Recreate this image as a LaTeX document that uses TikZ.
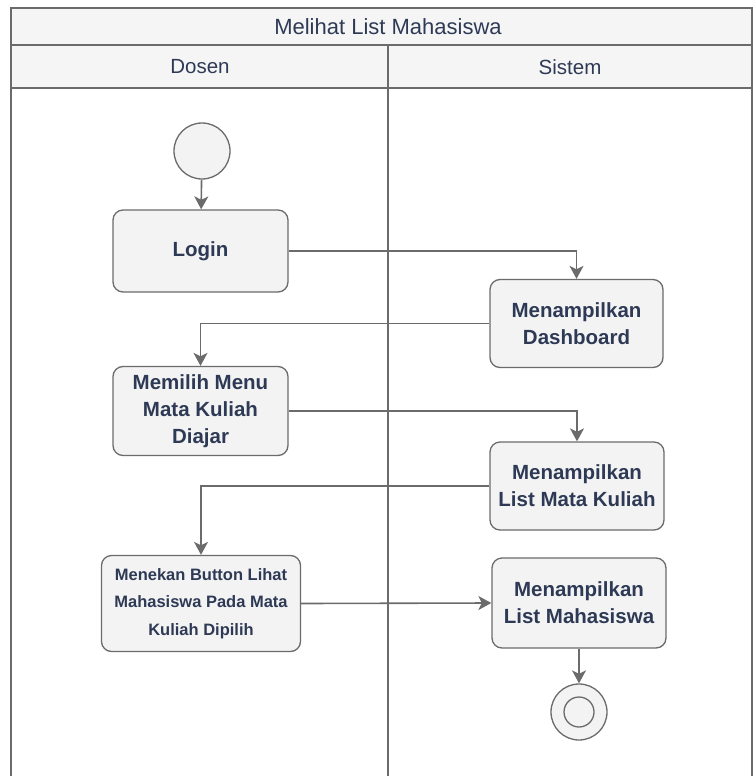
\documentclass[tikz,border=0pt]{standalone}
\usepackage{fontspec}
\setmainfont{Liberation Sans}
\usetikzlibrary{arrows.meta}
\definecolor{ink}{HTML}{2E3A55}
\definecolor{edge}{HTML}{6B6B6B}
\definecolor{boxfill}{HTML}{F3F3F3}
\definecolor{headfill}{HTML}{F5F5F5}
\tikzset{
  lane/.style={draw=edge, line width=1.3pt},
  action/.style={draw=edge, fill=boxfill, line width=1.3pt, rounded corners=10pt,
    align=center, text=ink, inner sep=2pt,
    font=\bfseries\fontsize{20.5}{27}\selectfont},
  startnode/.style={circle, draw=edge, fill=boxfill, line width=1.3pt, minimum size=56pt, inner sep=0pt},
  flow/.style={draw=edge, line width=1.6pt, -{Stealth[length=13pt,width=14pt,inset=3.5pt]}},
  headtext/.style={text=ink, font=\fontsize{20.5}{24}\selectfont}
}
\begin{document}
\begin{tikzpicture}[x=1pt,y=-1pt]
\useasboundingbox (0,0) rectangle (753,776);

% swimlane frame
\fill[headfill] (11,8) rectangle (752,88);
\draw[lane] (11,776) -- (11,8) -- (752,8) -- (752,776);
\draw[lane] (11,45) -- (752,45);
\draw[lane] (11,88) -- (752,88);
\draw[lane] (388,45) -- (388,776);
\node[headtext, font=\fontsize{22}{24}\selectfont] (title) at (388,27) {Melihat List Mahasiswa};
\node[headtext] (dosen) at (200,67) {Dosen};
\node[headtext] (sistem) at (570,67) {Sistem};

% activities
\node[startnode] (start) at (202,151) {};
\node[action, minimum width=175pt, minimum height=82pt] (login) at (200.5,251) {Login};
\node[action, minimum width=173pt, minimum height=88pt] (dash) at (576.5,323.5) {Menampilkan\\Dashboard};
\node[action, minimum width=175pt, minimum height=89pt] (menu) at (200.5,411) {Memilih Menu\\Mata Kuliah\\Diajar};
\node[action, minimum width=174pt, minimum height=88pt] (listmk) at (577,486) {Menampilkan\\List Mata Kuliah};
\node[action, minimum width=199pt, minimum height=96pt,
  font=\bfseries\fontsize{16.5}{27.5}\selectfont] (tekan) at (201,603.5)
  {Menekan Button Lihat\\Mahasiswa Pada Mata\\Kuliah Dipilih};
\node[action, minimum width=174pt, minimum height=90pt] (listmhs) at (579,603) {Menampilkan\\List Mahasiswa};
\node[startnode] (end) at (579,712) {};
\node[circle, draw=edge, line width=1.3pt, minimum size=30pt, inner sep=0pt] (endin) at (end.center) {};

% control flow
\draw[flow] (start) -- (login);
\draw[flow] (login.east) -| (dash.north);
\draw[flow] (dash.west) -| (menu.north);
\draw[flow] (menu.east) -| (listmk.north);
\draw[flow] (listmk.west) -| (tekan.north);
\draw[flow] (tekan.east) -- (listmhs.west);
\draw[flow] (listmhs.south) -- (end.north);
\end{tikzpicture}
\end{document}
